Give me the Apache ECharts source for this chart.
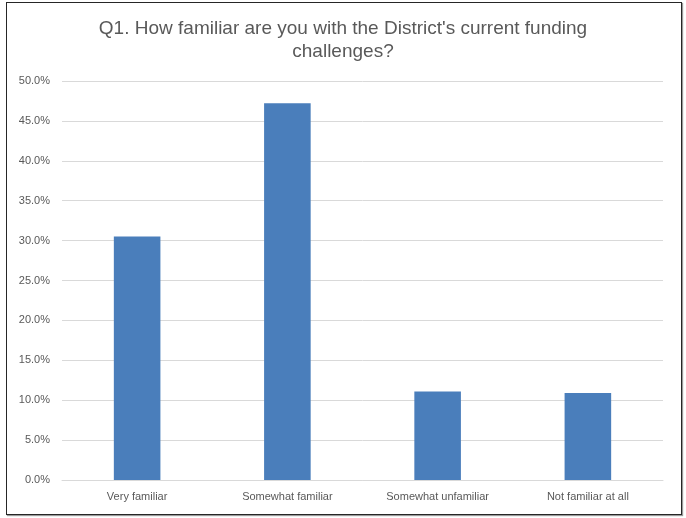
<!DOCTYPE html>
<html>
<head>
<meta charset="utf-8">
<script src="https://cdn.jsdelivr.net/npm/echarts@6/dist/echarts.min.js"></script>
<style>
  html, body { margin: 0; padding: 0; background: #fff; }
  #chart { position: absolute; left: 0; top: 0; width: 686px; height: 518px; }
  #frame {
    position: absolute; left: 6px; top: 2px; width: 674px; height: 511px;
    border: 1.5px solid #262626; box-shadow: 1px 1px 1px #999; pointer-events: none;
  }
</style>
</head>
<body>
<div id="chart"></div>
<div id="frame"></div>
<script>
const titleText = "Q1. How familiar are you with the District's current funding\nchallenges?";
const categories = ['Very familiar', 'Somewhat familiar', 'Somewhat unfamiliar', 'Not familiar at all'];
const values = [30.5, 47.2, 11.1, 10.9];

const chart = echarts.init(document.getElementById('chart'));
chart.setOption({
  animation: false,
  title: {
    text: titleText,
    left: 'center',
    top: 12,
    textStyle: {
      fontFamily: 'Liberation Sans',
      fontSize: 19,
      fontWeight: 'normal',
      color: '#595959',
      lineHeight: 23
    }
  },
  grid: { left: 62, right: 23, top: 81, bottom: 38 },
  xAxis: {
    type: 'category',
    data: categories,
    axisTick: { show: false },
    axisLine: { lineStyle: { color: '#d9d9d9' } },
    axisLabel: { color: '#595959', fontSize: 11, fontFamily: 'Liberation Sans', margin: 11 }
  },
  yAxis: {
    type: 'value',
    min: 0,
    max: 50,
    interval: 5,
    axisLine: { show: false },
    axisTick: { show: false },
    splitLine: { lineStyle: { color: '#d9d9d9' } },
    axisLabel: {
      color: '#595959', fontSize: 11, fontFamily: 'Liberation Sans', margin: 12,
      formatter: v => v.toFixed(1) + '%'
    }
  },
  series: [{
    type: 'bar',
    data: values,
    barWidth: '31%',
    itemStyle: { color: '#4a7ebb' }
  }]
});
</script>
</body>
</html>
